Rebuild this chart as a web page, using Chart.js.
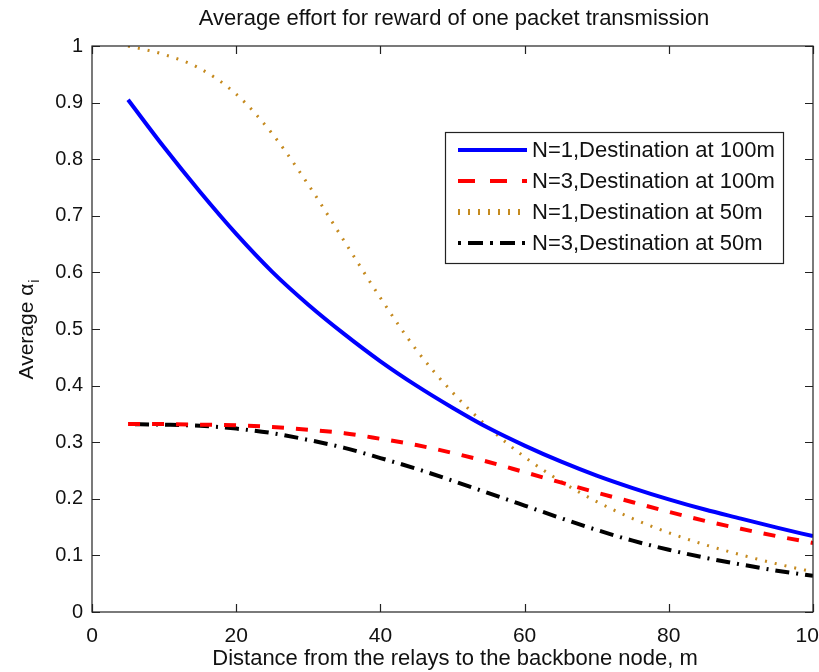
<!DOCTYPE html>
<html>
<head>
<meta charset="utf-8">
<title>Average effort</title>
<script src="https://cdn.jsdelivr.net/npm/chart.js@4.4.1/dist/chart.umd.min.js"></script>
<style>
  body { margin: 0; background: #fff; }
  #wrap { width: 819px; height: 672px; }
</style>
</head>
<body>
<div id="wrap"><canvas id="chart" width="819" height="672"></canvas></div>
<script>
// distance of the relays from the backbone node (m)
const distances = [5, 10, 15, 20, 25, 30, 35, 40, 45, 50, 55, 60, 65, 70, 75, 80, 85, 90, 95, 100];

// average alpha_i
const n1Dest100 = [0.905, 0.821, 0.742, 0.668, 0.601, 0.543, 0.491, 0.443, 0.400, 0.361,
                   0.325, 0.294, 0.266, 0.241, 0.219, 0.199, 0.181, 0.165, 0.149, 0.134];
const n3Dest100 = [0.332, 0.332, 0.331, 0.330, 0.327, 0.322, 0.316, 0.306, 0.295, 0.281,
                   0.265, 0.247, 0.229, 0.211, 0.194, 0.177, 0.161, 0.147, 0.134, 0.122];
const n1Dest50  = [1.000, 0.985, 0.960, 0.915, 0.845, 0.755, 0.655, 0.555, 0.463, 0.388,
                   0.326, 0.274, 0.231, 0.195, 0.165, 0.140, 0.119, 0.101, 0.085, 0.071];
const n3Dest50  = [0.332, 0.331, 0.329, 0.324, 0.316, 0.304, 0.290, 0.272, 0.253, 0.232,
                   0.210, 0.188, 0.166, 0.145, 0.126, 0.110, 0.096, 0.084, 0.073, 0.064];

const seriesLabels = ['N=1,Destination at 100m', 'N=3,Destination at 100m',
                      'N=1,Destination at 50m', 'N=3,Destination at 50m'];

const xTicks = [0, 20, 40, 60, 80, 100];
const yTicks = [0, 0.1, 0.2, 0.3, 0.4, 0.5, 0.6, 0.7, 0.8, 0.9, 1];

const chartTitle = 'Average effort for reward of one packet transmission';
const xTitle = 'Distance from the relays to the backbone node, m';

const FONT = '"Liberation Sans", Arial, Helvetica, sans-serif';

function pts(ys) {
  return distances.map((d, i) => ({ x: d, y: ys[i] }));
}

// MATLAB style box, inward ticks, titles and legend
const matlabFrame = {
  id: 'matlabFrame',
  afterDraw(chart) {
    const ctx = chart.ctx;
    const a = chart.chartArea;
    const xs = chart.scales.x, ys = chart.scales.y;
    ctx.save();
    ctx.strokeStyle = '#222';
    ctx.lineWidth = 1.2;
    ctx.strokeRect(a.left, a.top, a.right - a.left, a.bottom - a.top);
    ctx.beginPath();
    xTicks.forEach(v => {
      const px = Math.round(xs.getPixelForValue(v)) + 0.5;
      ctx.moveTo(px, a.bottom); ctx.lineTo(px, a.bottom - 8);
      ctx.moveTo(px, a.top); ctx.lineTo(px, a.top + 8);
    });
    yTicks.forEach(v => {
      const py = Math.round(ys.getPixelForValue(v)) + 0.5;
      ctx.moveTo(a.left, py); ctx.lineTo(a.left + 8, py);
      ctx.moveTo(a.right, py); ctx.lineTo(a.right - 8, py);
    });
    ctx.stroke();

    // title and x label
    ctx.fillStyle = '#111';
    ctx.textAlign = 'center';
    ctx.textBaseline = 'middle';
    ctx.font = '22px ' + FONT;
    ctx.fillText(chartTitle, 454, 19);
    ctx.fillText(xTitle, 455, 659);

    // y label with subscript
    ctx.save();
    ctx.translate(27, 330);
    ctx.rotate(-Math.PI / 2);
    ctx.font = '21px ' + FONT;
    const main = 'Average \u03b1';
    const w1 = ctx.measureText(main).width;
    ctx.font = '14px ' + FONT;
    const w2 = ctx.measureText('i').width;
    ctx.textAlign = 'left';
    ctx.font = '21px ' + FONT;
    ctx.fillText(main, -(w1 + w2) / 2, 0);
    ctx.font = '14px ' + FONT;
    ctx.fillText('i', -(w1 + w2) / 2 + w1 + 1, 8);
    ctx.restore();

    // legend
    const box = { l: 445, t: 132, r: 783, b: 263 };
    ctx.fillStyle = '#fff';
    ctx.fillRect(box.l, box.t, box.r - box.l, box.b - box.t);
    ctx.strokeStyle = '#222';
    ctx.lineWidth = 1.2;
    ctx.strokeRect(box.l + 0.5, box.t + 0.5, box.r - box.l, box.b - box.t);
    const rowY = [150, 181, 212, 243];
    chart.data.datasets.forEach((ds, i) => {
      const y = rowY[i];
      ctx.save();
      ctx.strokeStyle = ds.borderColor;
      ctx.lineWidth = ds.legendWidth || ds.borderWidth;
      ctx.setLineDash(ds.legendDash || ds.borderDash || []);
      ctx.beginPath();
      ctx.moveTo(458, y); ctx.lineTo(527, y);
      ctx.stroke();
      ctx.restore();
      ctx.fillStyle = '#111';
      ctx.textAlign = 'left';
      ctx.textBaseline = 'middle';
      ctx.font = '22px ' + FONT;
      ctx.fillText(ds.label, 532, y + 1);
    });
    ctx.restore();
  }
};

const config = {
  type: 'line',
  data: {
    datasets: [
      { label: seriesLabels[0], data: pts(n1Dest100), borderColor: '#0000ff',
        borderWidth: 4, borderDash: [] },
      { label: seriesLabels[1], data: pts(n3Dest100), borderColor: '#ff0000',
        borderWidth: 4, borderDash: [12, 12], legendDash: [17, 15] },
      { label: seriesLabels[2], data: pts(n1Dest50), borderColor: '#c58a1f',
        borderWidth: 3, borderDash: [2, 8], legendWidth: 6, legendDash: [2, 8] },
      { label: seriesLabels[3], data: pts(n3Dest50), borderColor: '#000000',
        borderWidth: 4, borderDash: [14, 7, 2, 7], borderDashOffset: 23, legendDash: [3, 7, 15, 7] }
    ]
  },
  options: {
    responsive: false,
    animation: false,
    layout: { padding: { left: 0, right: 6, top: 46, bottom: 0 } },
    elements: {
      point: { radius: 0 },
      line: { cubicInterpolationMode: 'monotone', fill: false, borderCapStyle: 'butt' }
    },
    plugins: {
      legend: { display: false },
      title: { display: false },
      tooltip: { enabled: false }
    },
    scales: {
      x: {
        type: 'linear', min: 0, max: 100,
        grid: { display: false, drawTicks: false },
        border: { display: false },
        afterBuildTicks: s => { s.ticks = xTicks.map(v => ({ value: v })); },
        afterFit: s => { s.height = 60; s.paddingLeft = 0; s.paddingRight = 0; },
        ticks: { color: '#111', padding: 12, maxRotation: 0, autoSkip: false,
                 font: { family: FONT, size: 21 }, callback: v => String(v) }
      },
      y: {
        type: 'linear', min: 0, max: 1,
        grid: { display: false, drawTicks: false },
        border: { display: false },
        afterBuildTicks: s => { s.ticks = yTicks.map(v => ({ value: v })); },
        afterFit: s => { s.width = 92; s.paddingTop = 0; s.paddingBottom = 0; },
        ticks: { color: '#111', padding: 9, autoSkip: false,
                 font: { family: FONT, size: 20 }, callback: v => String(v) }
      }
    }
  },
  plugins: [matlabFrame]
};

const chartElement = document.getElementById('chart');
const myChart = new Chart(chartElement, config);
</script>
</body>
</html>
